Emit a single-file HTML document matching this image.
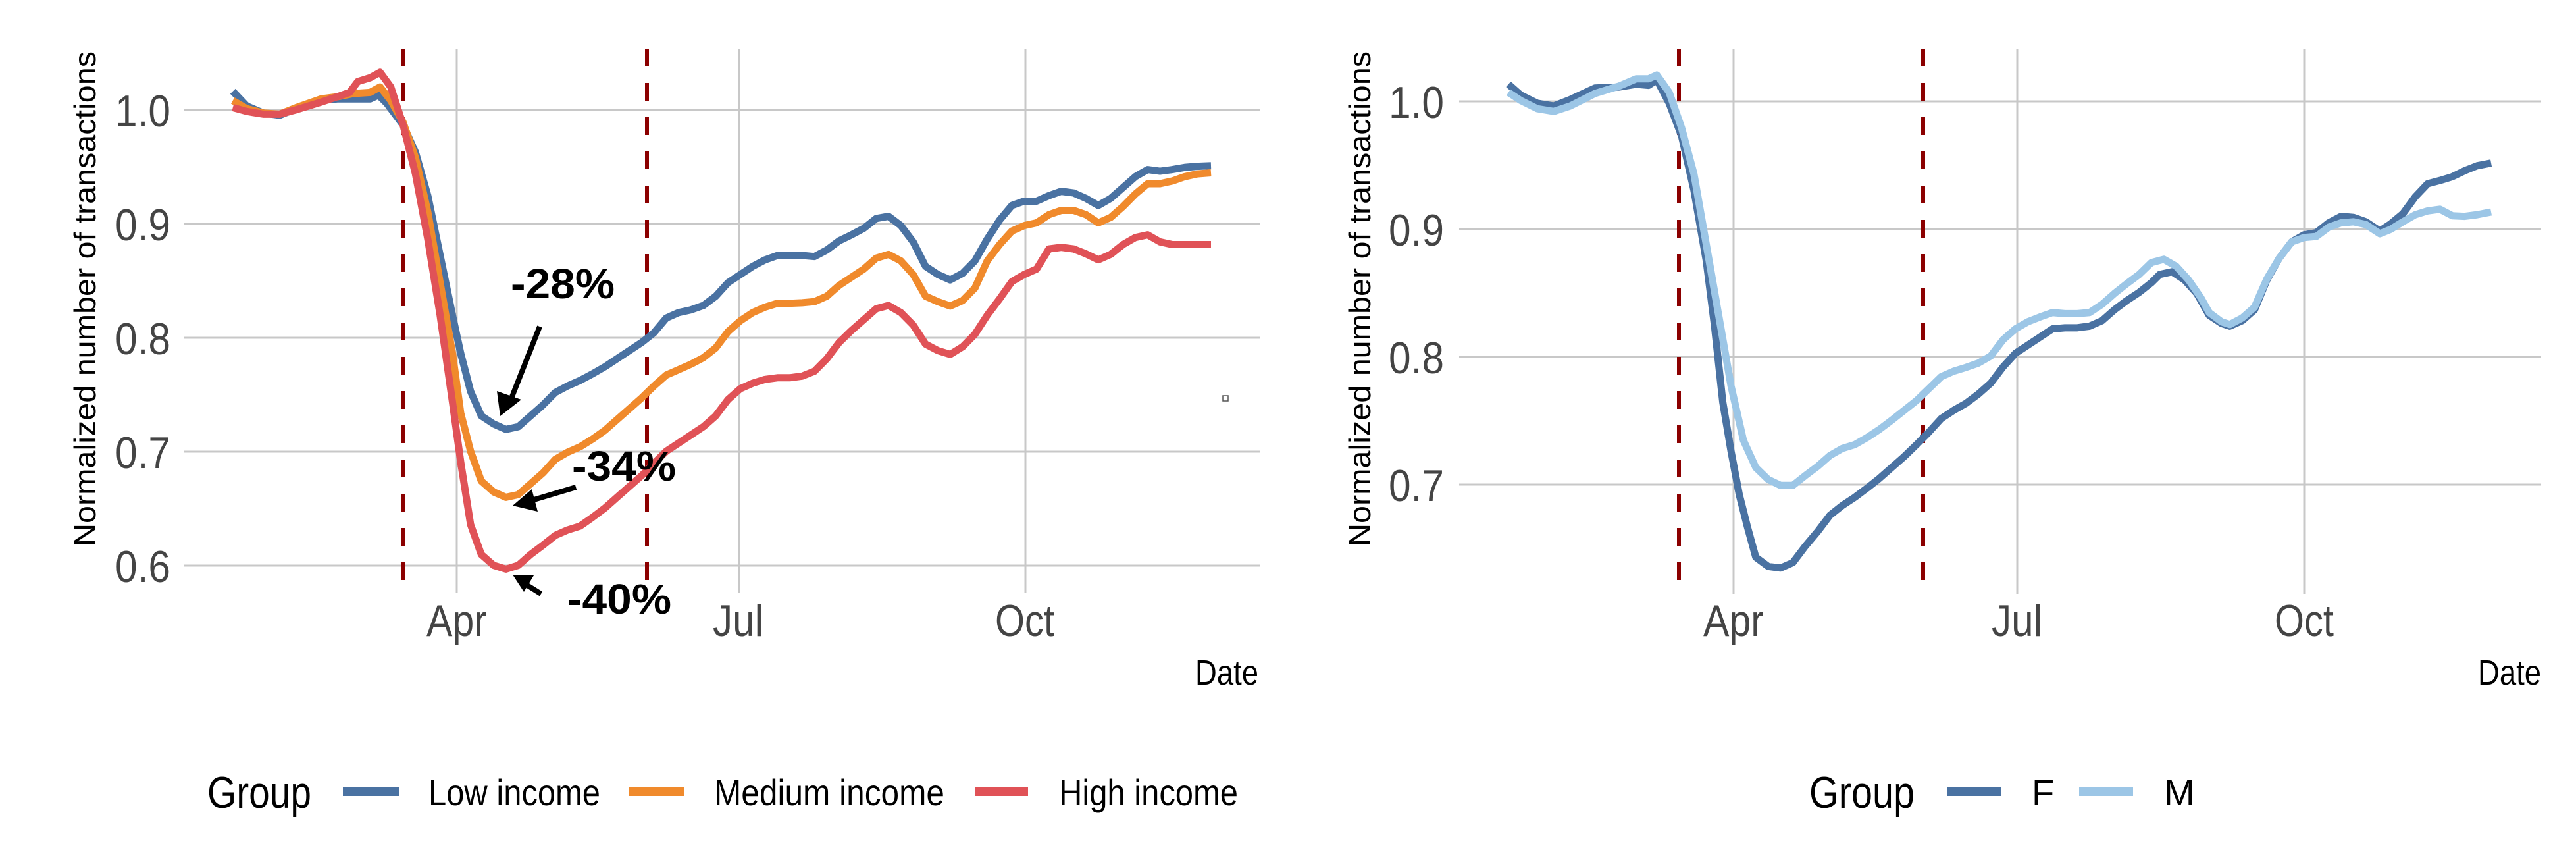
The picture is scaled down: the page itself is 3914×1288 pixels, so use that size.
<!DOCTYPE html>
<html><head><meta charset="utf-8"><style>
html,body{margin:0;padding:0;background:#fff;}
svg{display:block;}
.tk{font-family:"Liberation Sans Narrow","Liberation Sans",sans-serif;fill:#444;font-size:68px;}
.lg{font-family:"Liberation Sans Narrow","Liberation Sans",sans-serif;fill:#000;}
.yt{font-family:"Liberation Sans",sans-serif;fill:#000;font-size:46px;}
.an{font-family:"Liberation Sans",sans-serif;font-weight:bold;fill:#000;font-size:64px;}
</style></head><body>
<svg width="3914" height="1288" viewBox="0 0 3914 1288" xmlns="http://www.w3.org/2000/svg">
<!-- LEFT PANEL -->
<g stroke="#c8c8c8" stroke-width="3">
<line x1="280" y1="167" x2="1915" y2="167"/>
<line x1="280" y1="340" x2="1915" y2="340"/>
<line x1="280" y1="513" x2="1915" y2="513"/>
<line x1="280" y1="686" x2="1915" y2="686"/>
<line x1="280" y1="859" x2="1915" y2="859"/>
<line x1="694" y1="74" x2="694" y2="900"/>
<line x1="1123" y1="74" x2="1123" y2="900"/>
<line x1="1558" y1="74" x2="1558" y2="900"/>
</g>
<g stroke="#8b0000" stroke-width="6" stroke-dasharray="27,25">
<line x1="613" y1="74" x2="613" y2="900"/>
<line x1="983" y1="74" x2="983" y2="900"/>
</g>
<g transform="scale(1.25,0.8256)" fill="none" stroke-width="11" stroke-linejoin="round">
<polyline vector-effect="non-scaling-stroke" stroke="#4a72a2" points="283,168 300,195 320,208 340,212 360,200 390,185 410,182 430,182 450,182 460,175 470,190 490,230 505,280 520,360 535,470 550,580 560,650 572,720 585,765 600,780 615,790 630,785 645,765 660,745 675,722 690,710 705,700 720,688 735,675 750,660 765,645 780,630 795,612 810,585 825,575 840,570 855,562 870,545 885,520 900,505 915,490 930,478 945,470 960,470 975,470 990,472 1005,460 1020,443 1035,432 1050,420 1065,402 1080,398 1095,415 1110,445 1125,490 1140,505 1155,515 1170,503 1185,480 1200,440 1215,405 1230,378 1245,370 1260,370 1275,360 1290,352 1305,355 1320,365 1335,378 1350,365 1365,345 1380,325 1395,312 1410,315 1425,312 1440,308 1455,306 1472,305"/>
<polyline vector-effect="non-scaling-stroke" stroke="#f08a2c" points="283,185 300,200 320,208 340,210 360,198 390,182 410,178 430,172 450,170 462,160 475,185 490,225 505,290 520,390 535,520 550,650 560,760 572,830 585,885 600,905 615,915 630,910 645,890 660,870 675,845 690,832 705,822 720,808 735,792 750,772 765,752 780,732 795,710 810,690 825,680 840,670 855,658 870,640 885,610 900,590 915,575 930,565 945,558 960,558 975,557 990,555 1005,545 1020,525 1035,510 1050,495 1065,475 1080,468 1095,480 1110,505 1125,545 1140,555 1155,563 1170,553 1185,530 1200,480 1215,450 1230,425 1245,415 1260,410 1275,395 1290,387 1305,387 1320,395 1335,410 1350,400 1365,380 1380,357 1395,338 1410,338 1425,333 1440,325 1455,320 1472,318"/>
<polyline vector-effect="non-scaling-stroke" stroke="#e05257" points="283,198 300,205 320,210 340,210 360,202 390,188 410,178 425,170 435,150 450,143 462,133 475,160 490,230 505,320 520,440 535,580 550,740 560,850 572,965 585,1020 600,1040 615,1047 630,1040 645,1020 660,1003 675,985 690,975 705,968 720,952 735,935 750,915 765,895 780,875 795,852 810,830 825,815 840,800 855,785 870,765 885,735 900,715 915,705 930,698 945,695 960,695 975,692 990,683 1005,660 1020,630 1035,608 1050,588 1065,568 1080,562 1095,575 1110,598 1125,633 1140,645 1155,652 1170,638 1185,615 1200,580 1215,550 1230,518 1245,505 1260,495 1275,458 1290,455 1305,458 1320,467 1335,478 1350,468 1365,450 1380,437 1395,432 1410,445 1425,450 1440,450 1455,450 1472,450"/>
</g>
<g text-anchor="end">
<text class="tk" x="259" y="192" textLength="84" lengthAdjust="spacingAndGlyphs">1.0</text>
<text class="tk" x="259" y="365" textLength="84" lengthAdjust="spacingAndGlyphs">0.9</text>
<text class="tk" x="259" y="538" textLength="84" lengthAdjust="spacingAndGlyphs">0.8</text>
<text class="tk" x="259" y="711" textLength="84" lengthAdjust="spacingAndGlyphs">0.7</text>
<text class="tk" x="259" y="884" textLength="84" lengthAdjust="spacingAndGlyphs">0.6</text>
</g>
<text class="tk" x="648" y="966" textLength="92" lengthAdjust="spacingAndGlyphs">Apr</text>
<text class="tk" x="1083" y="966" textLength="77" lengthAdjust="spacingAndGlyphs">Jul</text>
<text class="tk" x="1512" y="966" textLength="90" lengthAdjust="spacingAndGlyphs">Oct</text>
<text class="lg" x="1912" y="1040" font-size="54" text-anchor="end" textLength="96" lengthAdjust="spacingAndGlyphs">Date</text>
<text class="yt" transform="translate(145,454) rotate(-90)" text-anchor="middle" textLength="752" lengthAdjust="spacingAndGlyphs">Normalized number of transactions</text>
<!-- annotations -->
<text class="an" x="776" y="453" textLength="158" lengthAdjust="spacingAndGlyphs">-28%</text>
<text class="an" x="869" y="730" textLength="158" lengthAdjust="spacingAndGlyphs">-34%</text>
<text class="an" x="862" y="932" textLength="158" lengthAdjust="spacingAndGlyphs">-40%</text>
<g stroke="#000" stroke-width="8" fill="#000">
<line x1="820" y1="496" x2="775" y2="610"/>
<polygon stroke="none" points="760,632 755,594 792,607"/>
<line x1="875" y1="740" x2="808" y2="760"/>
<polygon stroke="none" points="779,768 808,743 817,777"/>
<line x1="822" y1="902" x2="798" y2="887"/>
<polygon stroke="none" points="779,873 811,874 796,899"/>
</g>
<rect x="1858" y="601" width="8" height="8" fill="none" stroke="#555" stroke-width="1.5"/>
<!-- legend left -->
<text class="lg" x="315" y="1227" font-size="68" textLength="158" lengthAdjust="spacingAndGlyphs">Group</text>
<rect x="521" y="1196" width="85" height="13" fill="#4a72a2"/>
<text class="lg" x="651" y="1223" font-size="56" textLength="261" lengthAdjust="spacingAndGlyphs">Low income</text>
<rect x="956" y="1196" width="84" height="13" fill="#f08a2c"/>
<text class="lg" x="1085" y="1223" font-size="56" textLength="350" lengthAdjust="spacingAndGlyphs">Medium income</text>
<rect x="1481" y="1196" width="81" height="13" fill="#e05257"/>
<text class="lg" x="1609" y="1223" font-size="56" textLength="272" lengthAdjust="spacingAndGlyphs">High income</text>

<!-- RIGHT PANEL -->
<g stroke="#c8c8c8" stroke-width="3">
<line x1="2217" y1="154" x2="3861" y2="154"/>
<line x1="2217" y1="348" x2="3861" y2="348"/>
<line x1="2217" y1="542" x2="3861" y2="542"/>
<line x1="2217" y1="736" x2="3861" y2="736"/>
<line x1="2634" y1="74" x2="2634" y2="902"/>
<line x1="3065" y1="74" x2="3065" y2="902"/>
<line x1="3501" y1="74" x2="3501" y2="902"/>
</g>
<g stroke="#8b0000" stroke-width="6" stroke-dasharray="27,25">
<line x1="2551" y1="74" x2="2551" y2="902"/>
<line x1="2922" y1="74" x2="2922" y2="902"/>
</g>
<g transform="translate(1960,0) scale(1.2526,0.8256)" fill="none" stroke-width="11" stroke-linejoin="round">
<polyline vector-effect="non-scaling-stroke" stroke="#4a72a2" points="265,155 280,175 300,190 320,195 340,183 370,162 400,160 420,155 435,157 445,147 460,190 475,250 490,350 505,480 515,600 525,740 535,830 545,910 555,970 565,1025 580,1042 595,1045 610,1035 625,1005 640,978 655,948 670,930 685,915 700,898 715,880 730,860 745,840 760,818 775,795 790,770 805,755 820,742 835,725 850,705 865,675 880,650 895,635 910,620 925,605 940,603 955,603 970,600 985,590 1000,570 1015,553 1030,538 1045,520 1055,505 1070,500 1085,515 1100,540 1115,580 1130,595 1140,600 1155,590 1170,570 1185,515 1200,475 1215,445 1230,432 1245,428 1260,410 1275,398 1290,400 1305,408 1322,425 1335,412 1350,393 1365,362 1380,338 1395,332 1410,325 1425,314 1440,305 1457,300"/>
<polyline vector-effect="non-scaling-stroke" stroke="#9cc6e6" points="265,170 280,185 300,200 320,205 340,195 370,172 400,158 420,145 435,145 445,138 460,170 475,235 490,320 505,450 520,580 535,710 550,810 565,860 580,882 595,893 610,893 625,875 640,858 655,838 670,825 685,818 700,805 715,790 730,773 745,755 760,737 775,715 790,693 805,683 820,676 835,668 850,655 865,625 880,605 895,592 910,583 925,575 940,577 955,577 970,575 985,560 1000,540 1015,522 1030,505 1045,483 1060,477 1075,490 1090,515 1105,548 1115,575 1130,592 1140,597 1155,585 1170,565 1185,513 1200,475 1215,445 1230,437 1245,435 1260,418 1275,410 1290,408 1305,413 1322,430 1335,422 1350,408 1365,395 1380,388 1395,385 1410,397 1425,398 1440,395 1457,390"/>
</g>
<g text-anchor="end">
<text class="tk" x="2194" y="179" textLength="84" lengthAdjust="spacingAndGlyphs">1.0</text>
<text class="tk" x="2194" y="373" textLength="84" lengthAdjust="spacingAndGlyphs">0.9</text>
<text class="tk" x="2194" y="567" textLength="84" lengthAdjust="spacingAndGlyphs">0.8</text>
<text class="tk" x="2194" y="761" textLength="84" lengthAdjust="spacingAndGlyphs">0.7</text>
</g>
<text class="tk" x="2588" y="966" textLength="92" lengthAdjust="spacingAndGlyphs">Apr</text>
<text class="tk" x="3026" y="966" textLength="77" lengthAdjust="spacingAndGlyphs">Jul</text>
<text class="tk" x="3456" y="966" textLength="90" lengthAdjust="spacingAndGlyphs">Oct</text>
<text class="lg" x="3861" y="1040" font-size="54" text-anchor="end" textLength="96" lengthAdjust="spacingAndGlyphs">Date</text>
<text class="yt" transform="translate(2082,454) rotate(-90)" text-anchor="middle" textLength="752" lengthAdjust="spacingAndGlyphs">Normalized number of transactions</text>
<text class="lg" x="2749" y="1227" font-size="68" textLength="160" lengthAdjust="spacingAndGlyphs">Group</text>
<rect x="2958" y="1196" width="82" height="13" fill="#4a72a2"/>
<text class="lg" x="3087" y="1223" font-size="56">F</text>
<rect x="3159" y="1196" width="82" height="13" fill="#9cc6e6"/>
<text class="lg" x="3288" y="1223" font-size="56">M</text>
</svg>
</body></html>
